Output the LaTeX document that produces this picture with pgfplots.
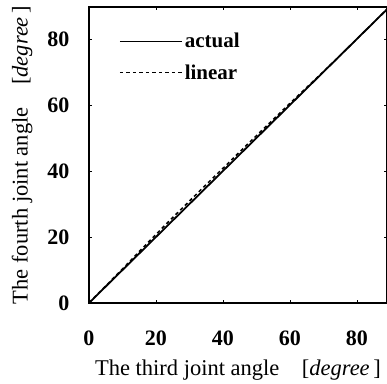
\documentclass[border=0pt]{standalone}
\usepackage{pgfplots}
\pgfplotsset{compat=1.18}
\usepackage{fontspec}
\setmainfont{Liberation Serif}
\usetikzlibrary{calc}
\begin{document}
\begin{tikzpicture}
\begin{axis}[
  name=ax,
  scale only axis,
  width=298pt, height=296pt,
  xmin=0, xmax=89, ymin=0, ymax=89.7,
  xtick={0,20,40,60,80}, ytick={0,20,40,60,80},
  tick align=inside,
  major tick length=3pt,
  axis line style={line width=1.5pt},
  tick style={line width=0.6pt, black},
  /pgf/number format/assume math mode=true,
  ticklabel style={font=\fontsize{22}{26}\selectfont\bfseries},
  xticklabel style={yshift=-24pt},
  yticklabel style={xshift=-16pt},
  xlabel={The third joint angle\quad[\textit{degree}\,]},
  ylabel={The fourth joint angle\quad[\textit{degree}\,]},
  label style={font=\fontsize{22.5}{27}\selectfont},
  xlabel style={yshift=-8pt},
  ylabel style={yshift=8pt},
  legend style={draw=none, fill=none, at={(0.1,0.925)}, anchor=north west,
    font=\fontsize{21}{24}\selectfont\bfseries, row sep=11pt,
    legend cell align=left, inner xsep=0pt},
  legend image code/.code={\draw[#1] (0pt,0pt) -- (62pt,0pt);},
]
\addplot[black, line width=1.8pt] coordinates {(0,0) (89,89)};
\addlegendentry{actual}
\addplot[black, line width=1.5pt, dash pattern=on 3.5pt off 3pt] coordinates {
(0,0.1) (10,10.3) (15,15.6) (20,20.8) (25,25.9) (30,30.9) (35,35.9) (40,40.8) (45,45.8) (50,50.7) (55,55.6) (60,60.5) (65,65.3) (70,70.1) (75,75.0) (80,80.0) (89,89)};
\addlegendentry{linear}
\end{axis}
\pgfresetboundingbox
\path ($(ax.south west)+(-89pt,-80pt)$) rectangle ($(ax.north east)+(0pt,7pt)$);
\end{tikzpicture}
\end{document}
